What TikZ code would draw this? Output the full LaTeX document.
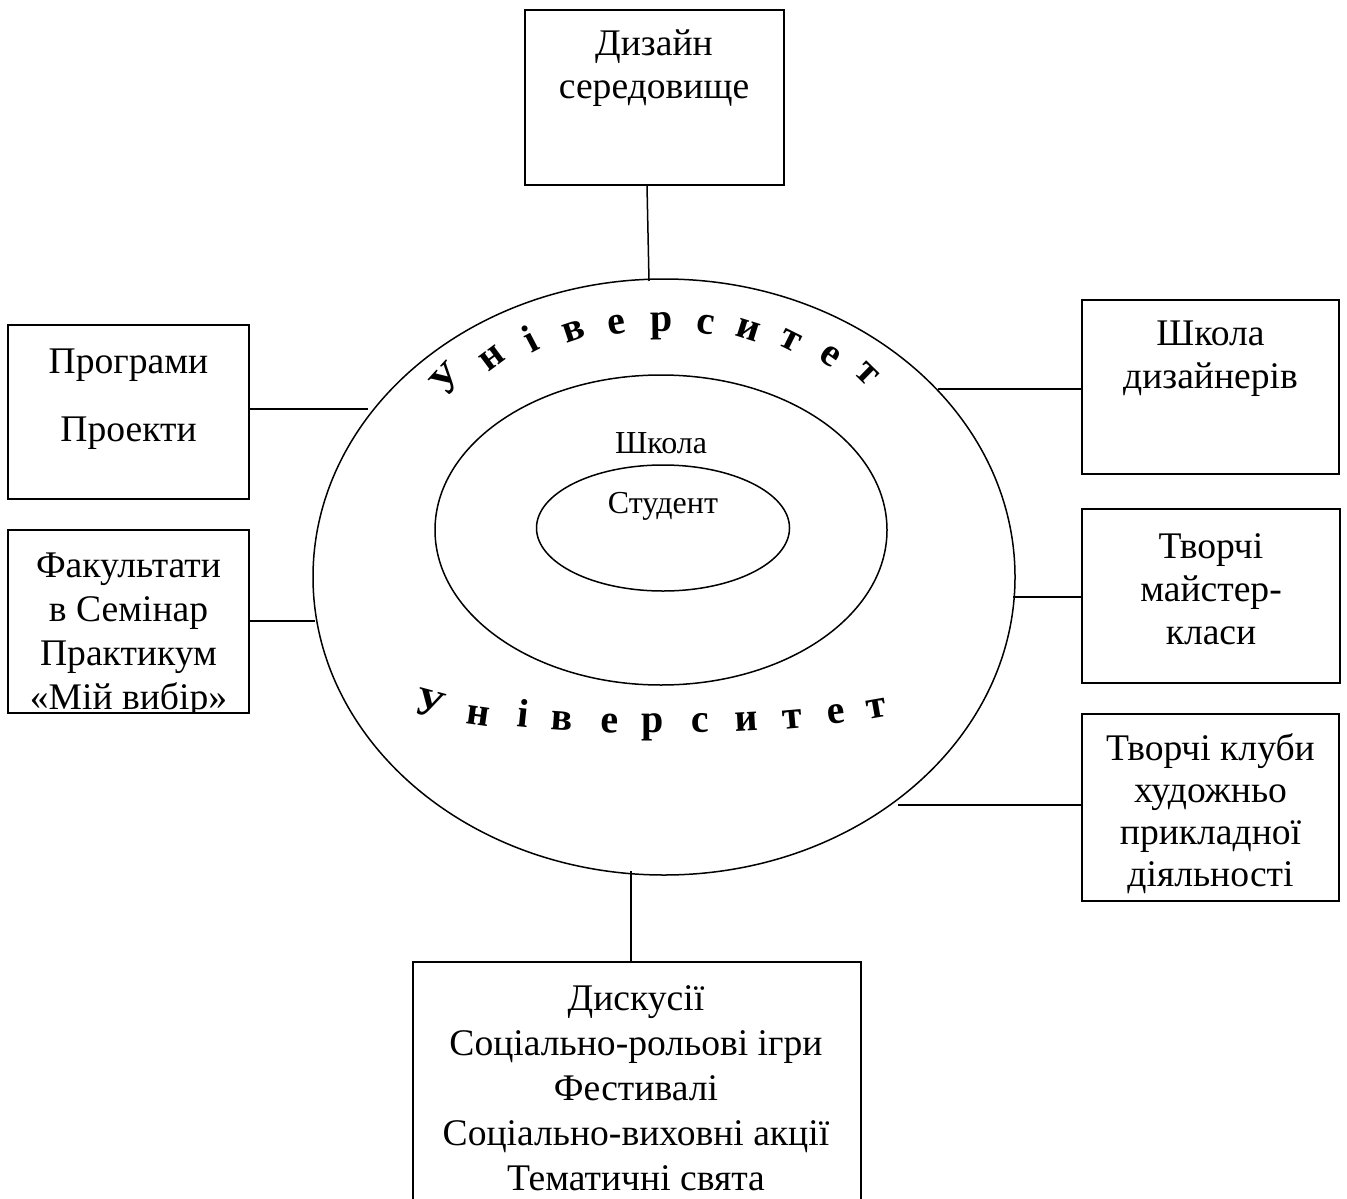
\documentclass[tikz,border=0pt]{standalone}
\usepackage{fontspec}
\setmainfont{Liberation Serif}
\usetikzlibrary{shapes.geometric}
\tikzset{
  box/.style={draw, line width=0.9pt, inner sep=0pt},
  oval/.style={draw, ellipse, line width=0.75pt, inner sep=0pt},
  link/.style={line width=0.75pt},
  txt/.style={align=center, inner sep=0pt, font=\fontsize{18.8}{21.5}\selectfont},
  small/.style={inner sep=0pt, font=\fontsize{16}{18}\selectfont},
  arch/.style={inner sep=0pt, text height=1.2ex, text depth=0.2ex, font=\fontsize{20}{22}\selectfont\bfseries}
}
\begin{document}
\begin{tikzpicture}[x=0.5pt,y=-0.5pt]
\useasboundingbox (0,0) rectangle (1347,1198);
\clip (0,0) rectangle (1347,1198);

% ellipses
\node[oval, minimum width=351pt, minimum height=298pt] (U) at (664,577) {};
\node[oval, minimum width=226pt, minimum height=155pt] (S) at (661,530) {};
\node[oval, minimum width=126.5pt, minimum height=63pt] (C) at (663,528) {};
\node[small] (st) at (661,443) {Школа};
\node[small] (sd0) at (663,506) {Студент};

% arched text (top)
\foreach \l/\th [count=\i from 0] in {У/129.5,н/120.5,і/113,в/105.5,е/98,р/90.5,с/83,и/75.5,т/68,е/60.5,т/53}{
  \pgfmathsetmacro\rt{(\th-90)*1.2}
  \node[arch, rotate=\rt] (a\i) at ({664+332*cos(\th)},{577-250*sin(\th)}) {\l};
}
% arched text (bottom)
\foreach \l/\px/\py/\rt [count=\i from 0] in
  {У/428/712/-15, н/478/721/-8, і/522/723/-6, в/562/726/-4, е/610/728/-2,
   р/653/728/0, с/700/728/1, и/747/726/3, т/793/724/5, е/837/719/7, т/877/713/10}{
  \node[arch, rotate=\rt] (b\i) at (\px,\py) {\l};
}

% boxes
\node[box, minimum width=129.5pt, minimum height=87.5pt] (dz) at (654.5,97.5) {};
\node[txt] (dzt) at (654,68) {Дизайн\\середовище};

\node[box, minimum width=120.5pt, minimum height=87pt] (pp) at (128.5,412) {};
\node[txt, font=\fontsize{18.8}{34}\selectfont] (ppt) at (128.5,399) {Програми\\Проекти};

\node[box, minimum width=120.5pt, minimum height=91.5pt] (fk) at (128.5,621.5) {};
\begin{scope}
\clip (fk.north west) rectangle (fk.south east);
\node[txt, font=\fontsize{18.8}{22}\selectfont] (fkt) at (128.5,635) {Факультати\\в Семінар\\Практикум\\«Мій вибір»};
\end{scope}

\node[box, minimum width=128.5pt, minimum height=87pt] (sd) at (1210.5,387) {};
\node[txt] (sdt) at (1210.5,359) {Школа\\дизайнерів};

\node[box, minimum width=129pt, minimum height=87pt] (tm) at (1211,596) {};
\node[txt] (tmt) at (1211,589) {Творчі\\майстер-\\класи};

\node[box, minimum width=128.5pt, minimum height=93.5pt] (tk) at (1210.5,807.5) {};
\node[txt, font=\fontsize{18.8}{21}\selectfont] (tkt) at (1210.5,814) {Творчі клуби\\художньо\\прикладної\\діяльності};

\node[box, minimum width=224pt, minimum height=128pt] (bb) at (637,1090) {};
\node[txt, font=\fontsize{18.8}{22.5}\selectfont] (bbt) at (636,1088) {Дискусії\\Соціально-рольові ігри\\Фестивалі\\Соціально-виховні акції\\Тематичні свята};

% connector end points on the outer ellipse
\coordinate (eT) at (649,281);
\coordinate (eB) at (631,871);
\coordinate (ePP) at (368,409);
\coordinate (eFK) at (315,621);
\coordinate (eSD) at (938,389);
\coordinate (eTM) at (1013,597);
\coordinate (eTK) at (898,805);

\draw[link] ([xshift=-3.75pt]dz.south) -- (eT);
\draw[link] ([xshift=-3pt]bb.north) -- (eB);
\draw[link] (pp.east |- ePP) -- (ePP);
\draw[link] (fk.east |- eFK) -- (eFK);
\draw[link] (sd.west |- eSD) -- (eSD);
\draw[link] (tm.west |- eTM) -- (eTM);
\draw[link] (tk.west |- eTK) -- (eTK);
\end{tikzpicture}
\end{document}
